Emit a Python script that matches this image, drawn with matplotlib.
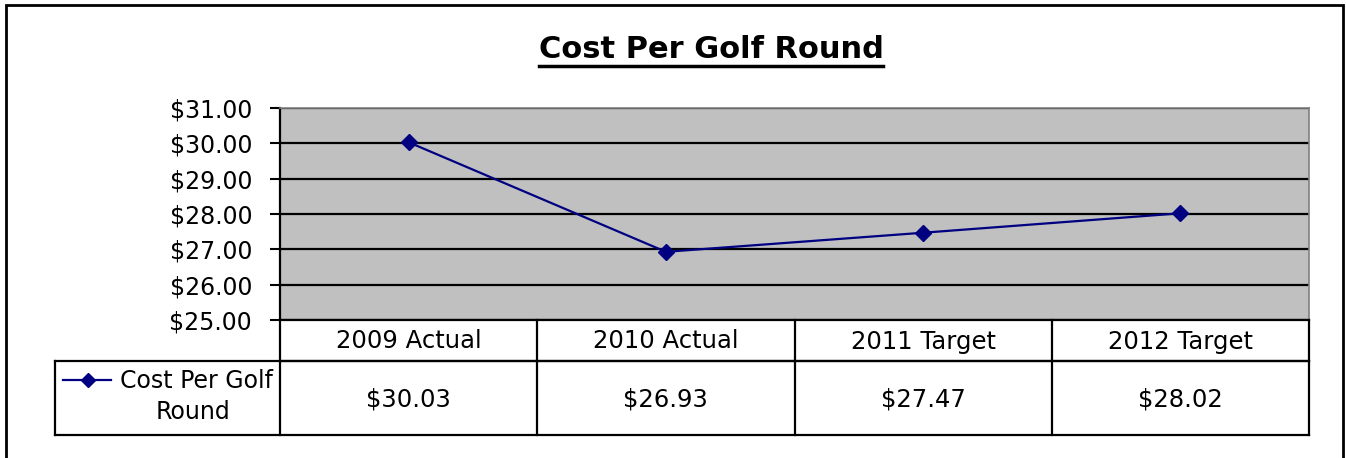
import matplotlib.pyplot as plt
from matplotlib.lines import Line2D
from matplotlib.patches import Rectangle

categories = ["2009 Actual", "2010 Actual", "2011 Target", "2012 Target"]
costs = [30.03, 26.93, 27.47, 28.02]
series_name = "Cost Per Golf Round"
y_ticks = [25, 26, 27, 28, 29, 30, 31]

W, H = 1346, 458
fig = plt.figure(figsize=(W / 100, H / 100), dpi=100)
plt.rcParams["font.family"] = ["DejaVu Sans"]

# outer chart border (bottom runs off the image)
fig.add_artist(Rectangle((6 / W, -0.05), 1337 / W, 1.05 - 5 / H, transform=fig.transFigure,
                         fill=False, edgecolor="black", linewidth=2))

# plot area
ax = fig.add_axes([280 / W, (H - 320) / H, 1029 / W, 212 / H])
ax.set_facecolor("#c0c0c0")
x = list(range(len(categories)))
ax.plot(x, costs, color="#000080", linewidth=1.6, marker="D", markersize=8,
        markerfacecolor="#000080", markeredgecolor="#000080", zorder=3)
ax.set_xlim(-0.5, len(categories) - 0.5)
ax.set_ylim(25, 31)
ax.set_yticks(y_ticks)
ax.set_yticklabels([f"${v:.2f}" for v in y_ticks], fontsize=17)
ax.yaxis.grid(True, color="black", linewidth=1.6)
ax.set_axisbelow(True)
ax.set_xticks([])
ax.tick_params(axis="y", direction="out", length=7, width=1.5, pad=13)
for s in ["top", "right"]:
    ax.spines[s].set_color("#808080")
    ax.spines[s].set_linewidth(1.2)
ax.spines["left"].set_linewidth(1.6)
ax.spines["bottom"].set_linewidth(1.6)

# data table below the plot
tb = fig.add_axes([280 / W, (H - 435) / H, 1029 / W, 115 / H], sharex=ax)
tb.set_ylim(0, 115)
tb.invert_yaxis()
tb.axis("off")
row1 = 41
cw = 1029 / len(categories)
leg_left = -0.5 - 225 / cw
lw = 1.6
kw = dict(color="black", linewidth=lw, clip_on=False)
tb.plot([-0.5, len(categories) - 0.5], [row1, row1], **kw)
tb.plot([leg_left, len(categories) - 0.5], [row1, row1], **kw)
tb.plot([leg_left, len(categories) - 0.5], [115, 115], **kw)
tb.plot([leg_left, leg_left], [row1, 115], **kw)
for i in range(len(categories) + 1):
    tb.plot([i - 0.5, i - 0.5], [0, 115], **kw)
for i, (c, v) in enumerate(zip(categories, costs)):
    tb.text(i, row1 / 2 + 1, c, ha="center", va="center", fontsize=17.5)
    tb.text(i, (row1 + 115) / 2 + 1, f"${v:.2f}", ha="center", va="center", fontsize=17.5)

# legend key inside the table
tb.plot([leg_left + 8 / cw, leg_left + 56 / cw], [row1 + 19, row1 + 19], color="#000080",
        linewidth=1.6, clip_on=False)
tb.plot([leg_left + 33 / cw], [row1 + 19], color="#000080", marker="D", markersize=7,
        clip_on=False)
name_lines = ["Cost Per Golf", "Round"]
tb.text(leg_left + 142 / cw, row1 + 20, name_lines[0], ha="center", va="center",
        fontsize=17)
tb.text(leg_left + 138 / cw, row1 + 51, name_lines[1], ha="center", va="center",
        fontsize=17)

# title with underline
t = fig.text(711 / W, (H - 49) / H, series_name, ha="center", va="center",
             fontsize=22, fontweight="bold")
fig.canvas.draw()
bb = t.get_window_extent().transformed(fig.transFigure.inverted())
fig.add_artist(Line2D([bb.x0, bb.x1], [(H - 66) / H] * 2, transform=fig.transFigure,
                      color="black", linewidth=2.5))

fig.savefig("out.png", dpi=100, facecolor="white")
